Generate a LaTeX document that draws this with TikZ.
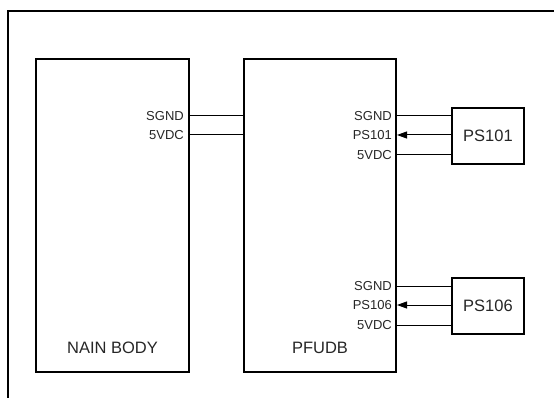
\documentclass[tikz,border=0pt]{standalone}
\usepackage{fontspec}
\setmainfont{Liberation Sans}
\usetikzlibrary{arrows.meta,calc}
\tikzset{
  blk/.style={draw, line width=2pt, rectangle, inner sep=0pt},
  blklabel/.style={font=\fontsize{16.5}{18}\selectfont, text=black!85, inner sep=0pt},
  pinlabel/.style={font=\fontsize{13}{15}\selectfont, text=black!85, inner sep=0pt, anchor=east},
  wire/.style={line width=1pt},
  sigarrow/.style={line width=1pt, -{Triangle[length=10pt,width=7pt]}},
  frame/.style={line width=1.3pt}
}
\begin{document}
\begin{tikzpicture}[x=1pt,y=-1pt]
\useasboundingbox (0,0) rectangle (554,398);
% partial frame
\coordinate (ftr) at (554,11);
\coordinate (ftl) at (8,11);
\coordinate (fbl) at (8,398);
\draw[frame] (ftr) -- (ftl) -- (fbl);
% main blocks
\node[blk, minimum width=153pt, minimum height=313pt] (nain) at (112.5,215.5) {};
\node[blk, minimum width=152pt, minimum height=313pt] (pfudb) at (320,215.5) {};
\node[blklabel] (nainlbl) at (112.5,348) {NAIN BODY};
\node[blklabel] (pfudblbl) at (320,348) {PFUDB};
% sensor blocks
\node[blk, minimum width=72pt, minimum height=56pt, blklabel, draw, line width=2pt] (ps101) at (488,136) {PS101};
\node[blk, minimum width=72pt, minimum height=56pt, blklabel, draw, line width=2pt] (ps106) at (488,306) {PS106};
% y levels
\coordinate (ya) at (0,116);
\coordinate (yb) at (0,135);
\coordinate (yc) at (0,155);
\coordinate (yd) at (0,286);
\coordinate (ye) at (0,305);
\coordinate (yf) at (0,325);
% NAIN BODY - PFUDB
\draw[wire] (nain.east |- ya) -- (pfudb.west |- ya);
\draw[wire] (nain.east |- yb) -- (pfudb.west |- yb);
\node[pinlabel] (n1) at ($(nain.east |- ya)+(-6,0)$) {SGND};
\node[pinlabel] (n2) at ($(nain.east |- yb)+(-6,0)$) {5VDC};
% PFUDB - PS101
\draw[wire] (ps101.west |- ya) -- (pfudb.east |- ya);
\draw[sigarrow] (ps101.west |- yb) -- (pfudb.east |- yb);
\draw[wire] (ps101.west |- yc) -- (pfudb.east |- yc);
\node[pinlabel] (p1) at ($(pfudb.east |- ya)+(-5,0)$) {SGND};
\node[pinlabel] (p2) at ($(pfudb.east |- yb)+(-5,0)$) {PS101};
\node[pinlabel] (p3) at ($(pfudb.east |- yc)+(-5,0)$) {5VDC};
% PFUDB - PS106
\draw[wire] (ps106.west |- yd) -- (pfudb.east |- yd);
\draw[sigarrow] (ps106.west |- ye) -- (pfudb.east |- ye);
\draw[wire] (ps106.west |- yf) -- (pfudb.east |- yf);
\node[pinlabel] (p4) at ($(pfudb.east |- yd)+(-5,0)$) {SGND};
\node[pinlabel] (p5) at ($(pfudb.east |- ye)+(-5,0)$) {PS106};
\node[pinlabel] (p6) at ($(pfudb.east |- yf)+(-5,0)$) {5VDC};
\end{tikzpicture}
\end{document}
